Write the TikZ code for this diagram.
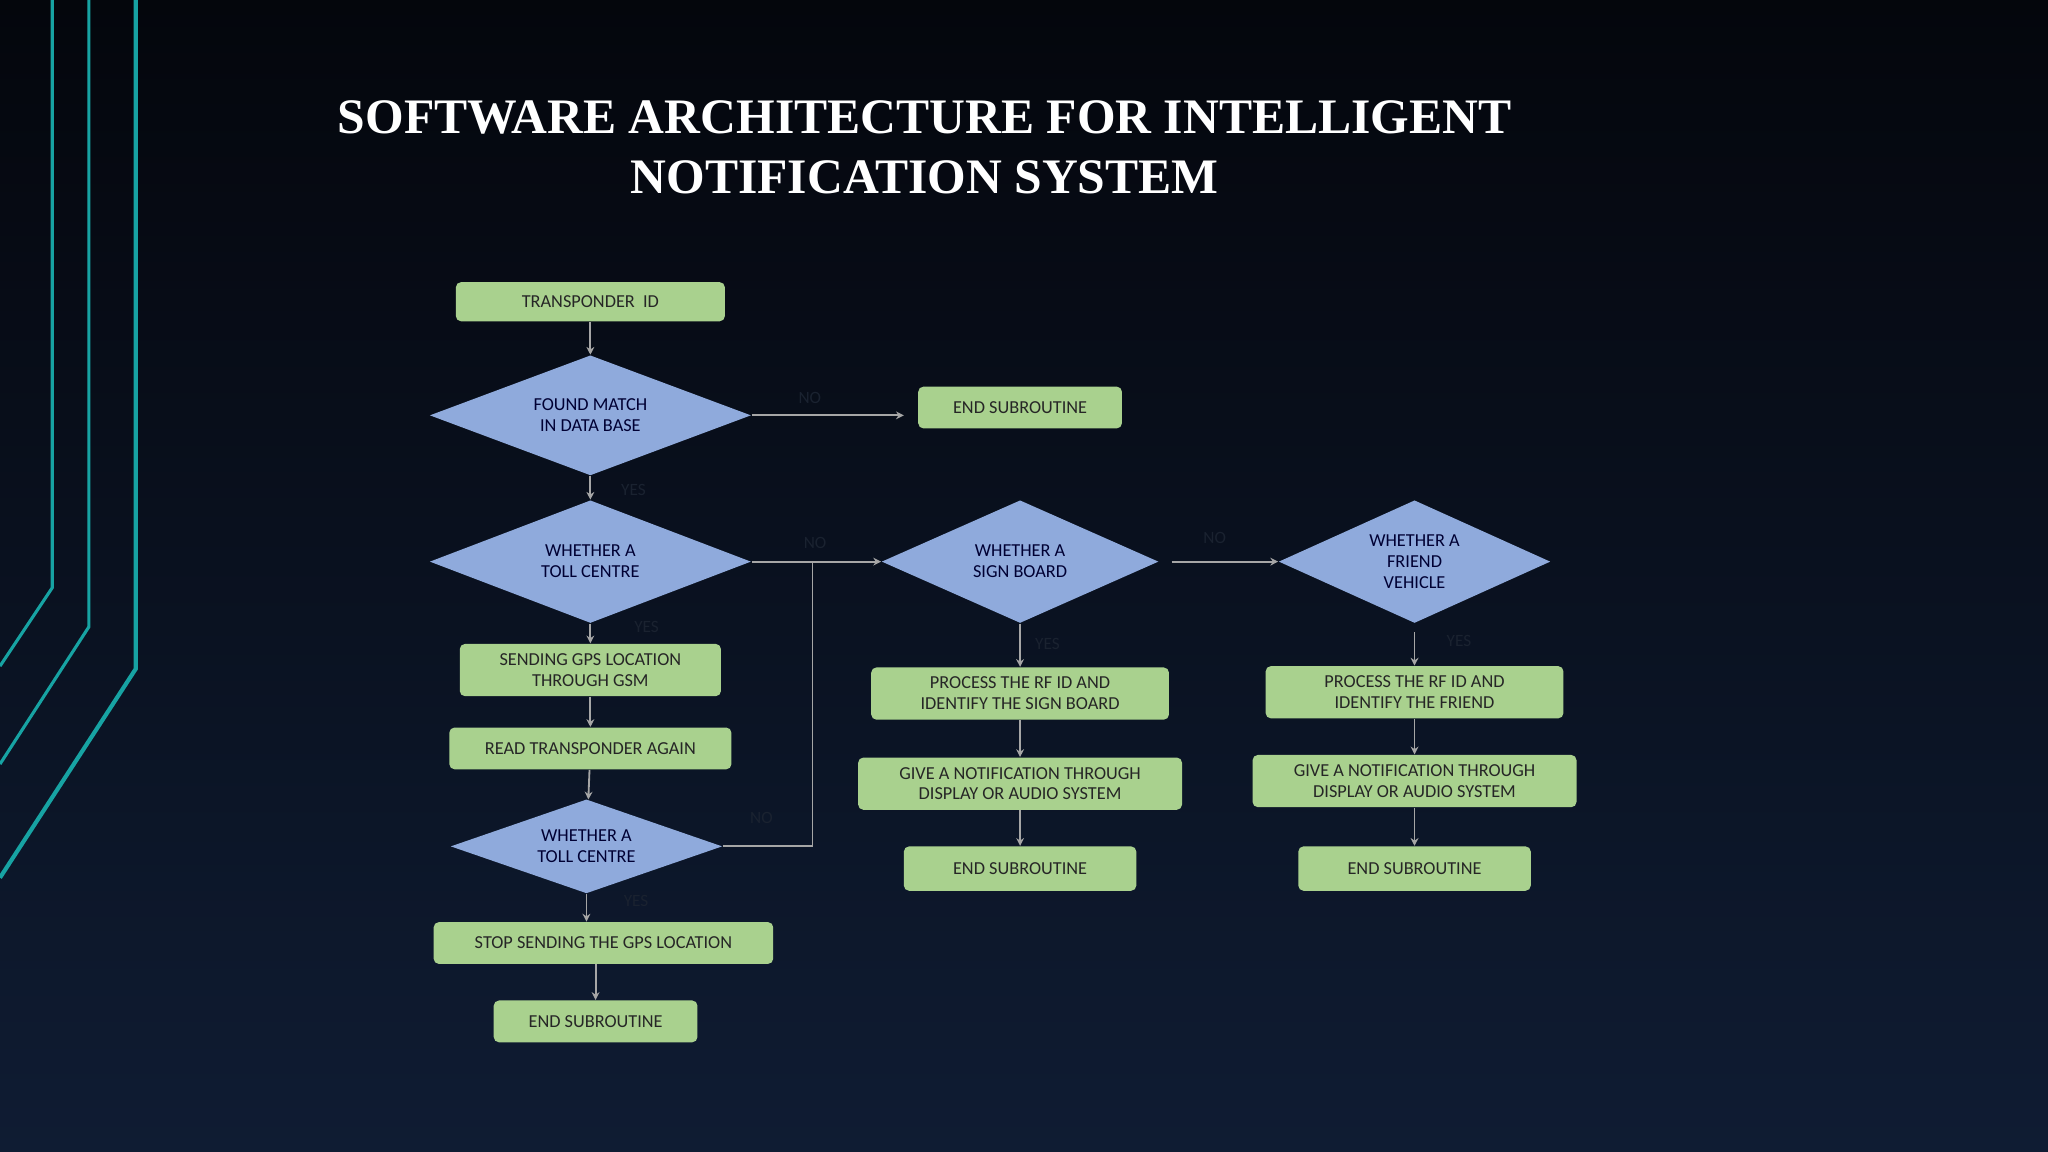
\documentclass[tikz,border=0pt]{standalone}
\usepackage{fontspec}
\setmainfont{Carlito}
\newfontfamily\titlefont{Liberation Serif}
\usetikzlibrary{shapes.geometric,arrows.meta}
\definecolor{bgA}{HTML}{04060C}
\definecolor{bgB}{HTML}{0F1C33}
\definecolor{teal}{HTML}{17A3A3}
\definecolor{boxg}{HTML}{A9D18E}
\definecolor{dia}{HTML}{8FAADC}
\definecolor{lbl}{HTML}{1A2230}
\tikzset{
  bx/.style={fill=boxg,rounded corners=2pt,text=black!85,font=\fontsize{7}{8}\selectfont,align=center,inner sep=0pt},
  dm/.style={diamond,fill=dia,text=black!80!blue,font=\fontsize{7}{8}\selectfont,align=center,inner sep=0pt,aspect=2.6},
  ar/.style={draw=gray!70,line width=0.7pt,-{Stealth[length=3pt,width=3pt]}},
  ln/.style={draw=gray!70,line width=0.7pt},
  yn/.style={text=lbl,font=\fontsize{6.6}{7.6}\selectfont}
}
\begin{document}
\begin{tikzpicture}[x={(0.5pt,0)},y={(0,-0.5pt)}]
\shade[top color=bgA,bottom color=bgB] (0,0) rectangle (1568,882);
\useasboundingbox (0,0) rectangle (1568,882);
\draw[teal,line width=1.2pt] (40,0)--(40,450)--(0,510);
\draw[teal,line width=1.2pt] (68,0)--(68,480)--(0,585);
\draw[teal,line width=1.6pt] (104,0)--(104,512)--(0,672);
\node[text=white,font=\titlefont\bfseries\fontsize{19}{23}\selectfont,align=center] (title) at (708,113) {SOFTWARE ARCHITECTURE FOR INTELLIGENT\\NOTIFICATION SYSTEM};
% left column
\node[bx,minimum width=103pt,minimum height=15pt] (t) at (452,231) {TRANSPONDER\ \ ID};
\node[dm,minimum width=123pt,minimum height=46pt] (d1) at (452,318) {FOUND MATCH\\IN DATA BASE};
\node[bx,minimum width=78pt,minimum height=16pt] (e1) at (781,312) {END SUBROUTINE};
\node[dm,minimum width=123pt,minimum height=47pt] (d2) at (452,430) {WHETHER A\\TOLL CENTRE};
\node[bx,minimum width=100pt,minimum height=20pt] (g) at (452,513) {SENDING GPS LOCATION\\THROUGH GSM};
\node[bx,minimum width=108pt,minimum height=16pt] (r) at (452,573) {READ TRANSPONDER AGAIN};
\node[dm,minimum width=104pt,minimum height=36pt,aspect=2.9] (d3) at (449,648) {WHETHER A\\TOLL CENTRE};
\node[bx,minimum width=130pt,minimum height=16pt] (s) at (462,722) {STOP SENDING THE GPS LOCATION};
\node[bx,minimum width=78pt,minimum height=16pt] (e2) at (456,782) {END SUBROUTINE};
% middle column
\node[dm,minimum width=106pt,minimum height=47pt,aspect=2.2] (d4) at (781,430) {WHETHER A\\SIGN BOARD};
\node[bx,minimum width=114pt,minimum height=20pt] (p1) at (781,531) {PROCESS THE RF ID AND\\IDENTIFY THE SIGN BOARD};
\node[bx,minimum width=124pt,minimum height=20pt] (n1) at (781,600) {GIVE A NOTIFICATION THROUGH\\DISPLAY OR AUDIO SYSTEM};
\node[bx,minimum width=89pt,minimum height=17pt] (e3) at (781,665) {END SUBROUTINE};
% right column
\node[dm,minimum width=104pt,minimum height=47pt,aspect=2.2] (d5) at (1083,430) {WHETHER A\\FRIEND\\VEHICLE};
\node[bx,minimum width=114pt,minimum height=20pt] (p2) at (1083,530) {PROCESS THE RF ID AND\\IDENTIFY THE FRIEND};
\node[bx,minimum width=124pt,minimum height=20pt] (n2) at (1083,598) {GIVE A NOTIFICATION THROUGH\\DISPLAY OR AUDIO SYSTEM};
\node[bx,minimum width=89pt,minimum height=17pt] (e4) at (1083,665) {END SUBROUTINE};
\coordinate (e1in) at (692,318);
\coordinate (j) at (622,430);
\coordinate (j2) at (622,648);
\coordinate (d4r) at (897,430);
\coordinate (d5s) at (1083,484);
% connectors
\draw[ar] (t) -- (d1);
\draw[ar] (d1.east) -- (e1in);
\draw[ar] (d1) -- (d2);
\draw[ar] (d2) -- (g);
\draw[ar] (g) -- (r);
\draw[ar] (r) -- (d3);
\draw[ar] (d3.south) -- (d3.south |- s.north);
\draw[ar] (e2.north |- s.south) -- (e2.north);
\draw[ar] (d2.east) -- (d4.west);
\draw[ln] (d3.east) -- (j2) -- (j);
\draw[ar] (d4r) -- (d5.west);
\draw[ar] (d4) -- (p1);
\draw[ar] (p1) -- (n1);
\draw[ar] (n1) -- (e3);
\draw[ar] (d5s) -- (p2);
\draw[ar] (p2) -- (n2);
\draw[ar] (n2) -- (e4);
% labels
\node[yn] (l1) at (620,305) {NO};
\node[yn] (l2) at (485,375) {YES};
\node[yn] (l3) at (624,416) {NO};
\node[yn] (l4) at (495,480) {YES};
\node[yn] (l5) at (802,493) {YES};
\node[yn] (l6) at (930,412) {NO};
\node[yn] (l7) at (1117,491) {YES};
\node[yn] (l8) at (583,626) {NO};
\node[yn] (l9) at (487,690) {YES};
\end{tikzpicture}
\end{document}
